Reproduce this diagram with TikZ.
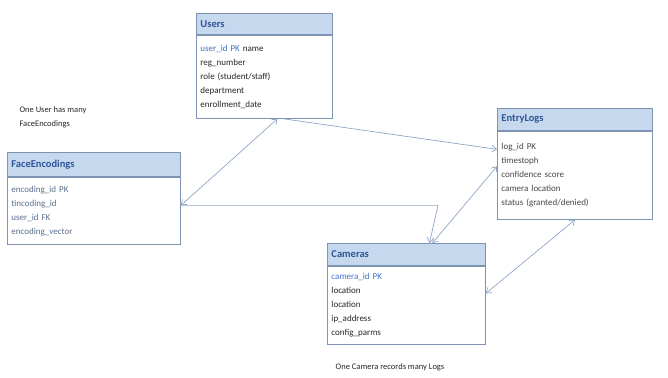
\documentclass[tikz,border=0pt]{standalone}
\usepackage{fontspec}
\setmainfont{Carlito}
\usetikzlibrary{arrows.meta,positioning}
\definecolor{erHeadFill}{HTML}{C5D8EE}
\definecolor{erBorder}{HTML}{7D93B2}
\definecolor{erTitle}{HTML}{2F5597}
\definecolor{erKey}{HTML}{4472C4}
\definecolor{erText}{HTML}{262626}
\definecolor{erSoft}{HTML}{5A6F8E}
\definecolor{erLine}{HTML}{8FA5C6}
\tikzset{
  erLink/.style={>={Straight Barb[length=1.6mm,width=2.4mm]}, draw=erLine, line width=0.7pt},
  erHead/.style={
    draw=erBorder,
    fill=erHeadFill,
    line width=0.9pt,
    anchor=north west,
    inner xsep=4pt,
    inner ysep=0pt,
    text=erTitle,
    font=\bfseries\fontsize{10.5}{12}\selectfont,
    align=left
  },
  erBody/.style={
    draw=erBorder,
    fill=white,
    line width=0.9pt,
    anchor=north,
    inner xsep=4pt,
    inner ysep=3pt,
    text=erText,
    font=\fontsize{9}{14}\selectfont,
    align=left
  },
  erNote/.style={font=\fontsize{8.5}{14}\selectfont, text=erText, align=left}
}
\begin{document}
\begin{tikzpicture}[x=1pt,y=1pt]
  \useasboundingbox (0,0) rectangle (668,-377);

  % tables
  \node[erHead, minimum width=136, minimum height=21, text width=128] (users) at (196,-13) {Users};
  \node[erBody, below=0pt of users, minimum width=136, minimum height=83, text width=128] (usersBody)
    {\textcolor{erKey}{user\_id PK} name\\reg\_number\\role (student/staff)\\department\\enrollment\_date\\[-2pt]};

  \node[erHead, minimum width=173, minimum height=24, text width=165] (face) at (7,-152) {FaceEncodings};
  \node[erBody, below=0pt of face, minimum width=173, minimum height=67, text width=165, text=erSoft] (faceBody)
    {encoding\_id PK\\tincoding\_id\\user\_id FK\\encoding\_vector};

  \node[erHead, minimum width=155, minimum height=22, text width=147] (logs) at (497,-108) {EntryLogs};
  \node[erBody, below=0pt of logs, minimum width=155, minimum height=88, text width=147, text=erText!85] (logBody)
    {log\_id PK\\timestoph\\confidence score\\camera location\\status (granted/denied)\\[2pt]};

  \node[erHead, minimum width=158, minimum height=22, text width=150] (cams) at (327,-243) {Cameras};
  \node[erBody, below=0pt of cams, minimum width=158, minimum height=78, text width=150] (camBody)
    {\textcolor{erKey}{camera\_id PK}\\location\\location\\ip\_address\\config\_parms};

  % notes
  \node[erNote, anchor=north west] (noteUser) at (16,-103) {One User has many\\FaceEncodings};
  \node[erNote, anchor=north] (noteCam) at (390,-360) {One Camera records many Logs};

  % relations
  \coordinate (faceOut) at ([yshift=5.5]faceBody.east);
  \coordinate (bendX) at (438,0);
  \coordinate (faceBend) at (faceOut -| bendX);
  \draw[erLink, <->] ([xshift=13]usersBody.south) -- (faceOut);
  \draw[erLink, ->] ([xshift=19]usersBody.south) -- ([yshift=26]logBody.west);
  \draw[erLink, <->] ([yshift=9]logBody.west) -- ([xshift=26]cams.north);
  \draw[erLink, ->] (faceOut) -- (faceBend) -- ([xshift=23]cams.north);
  \draw[erLink, <->] (logBody.south) -- ([yshift=12]camBody.east);
\end{tikzpicture}
\end{document}
